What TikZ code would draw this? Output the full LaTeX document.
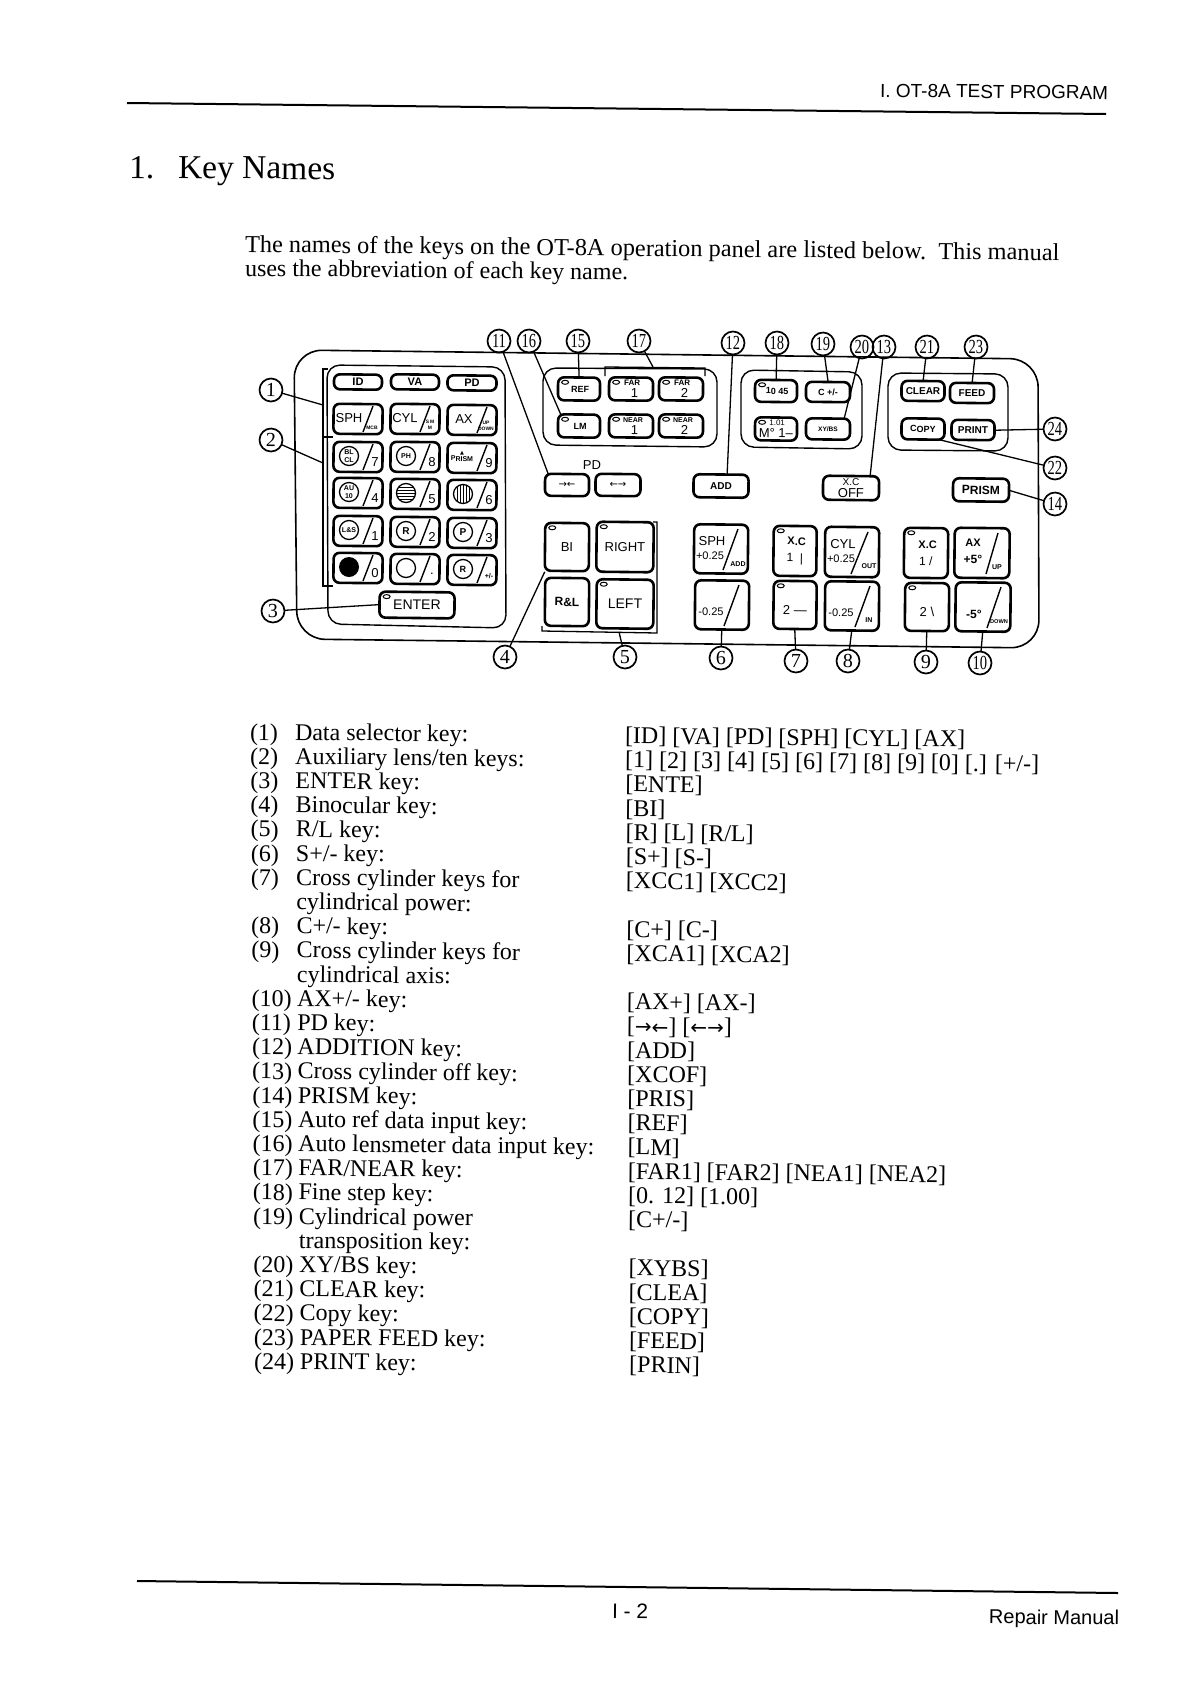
\documentclass[tikz,border=0pt]{standalone}
\usepackage{fontspec}
\usepackage{graphicx}
\setmainfont{Liberation Serif}
\setsansfont{Liberation Sans}
\newfontfamily\arrowfont{DejaVu Sans}
\newcommand{\fsz}[1]{\fontsize{#1}{#1}\selectfont}
\tikzset{
  every node/.style={rotate=-0.6,inner sep=0pt,outer sep=0pt},
  keybox/.style={draw=black,line width=2.6pt,rounded corners=6pt,rectangle,minimum width=#1},
  keybox/.default=44pt,
  keytxt/.style={font=\sffamily\fsz{13},align=center},
  grp/.style={line width=1.4pt,rounded corners=13pt},
  con/.style={line width=1.3pt},
  cnum/.style={draw=black,line width=1.7pt,circle,minimum size=23pt,font=\fsz{20}},
  body/.style={anchor=base west,font=\fsz{24}},
  sm/.style={font=\sffamily\bfseries\fsz{7},align=center,line width=0pt},
  kt/.style={font=\sffamily\fsz{13},align=center},
}
% circled number labels
\newcommand{\lab}[3]{\node[cnum] (c#1) at (#2,#3) {\ifnum#1>9 \scalebox{0.72}[1]{#1}\else #1\fi};}
% plain key: name, x, y, w, h, text
\newcommand{\ky}[6]{\node[keybox=#4 pt,minimum height=#5 pt,keytxt] (#1) at (#2,#3) {#6};}
% slash inside key: name, dx1, dy1, dx2, dy2
\newcommand{\slsh}[5]{\draw[line width=1.4pt] ([shift={(#2,#3)}]#1.center) -- ([shift={(#4,#5)}]#1.center);}
\newcommand{\led}[1]{\draw[line width=1pt] ([shift={(7,5)}]#1.north west) ellipse [x radius=3.5,y radius=2];}
% text inside a key by offset: nodename, key, dx, dy, style, text
\newcommand{\kt}[6]{\node[#5] (#1) at ([shift={(#3,#4)}]#2.center) {#6};}
% ten key: name,x,y
\newcommand{\tk}[3]{\node[keybox=49pt,minimum height=30pt] (#1) at (#2,#3) {};\slsh{#1}{5}{13}{15}{-13}}
% circle in ten key
\newcommand{\kc}[1]{\draw[line width=1.3pt] ([shift={(-9,-1)}]#1.center) circle (9.5);}
% list line: index, number, label, right text
\newcommand{\row}[4]{%
  \pgfmathsetmacro{\yy}{740+24.2*#1}%
  \pgfmathsetmacro{\xa}{250+0.155*#1}%
  \pgfmathsetmacro{\xb}{295+0.19*#1}%
  \pgfmathsetmacro{\xc}{625+0.16*#1}%
  \pgfmathsetmacro{\yr}{\yy+3.5}%
  \node[body] (n#1) at (\xa,\yy) {#2};
  \node[body] (t#1) at (\xb,\yy) {#3};
  \node[body] (r#1) at (\xc,\yr) {#4};
}
\begin{document}
\begin{tikzpicture}[x=1pt,y=-1pt]
\useasboundingbox (0,0) rectangle (1190,1684);
\fill[white] (0,0) rectangle (1190,1684);
% header
\node[anchor=base west,font=\sffamily\fsz{19}] (hdr) at (880,97) {I. OT-8A TEST PROGRAM};
\coordinate (hl) at (127,103); \coordinate (hr) at (1106,114);
\draw[line width=2pt] (hl) -- (hr);
\node[anchor=base west,font=\fsz{33.5}] (sec) at (129,178) {1.};
\node[anchor=base west,font=\fsz{33.5}] (sect) at (178,178) {Key Names};
\node[body,font=\fsz{24.35}] (p1) at (245,252) {The names of the keys on the OT-8A operation panel are listed below.\ \ This manual};
\node[body] (p2) at (245,276) {uses the abbreviation of each key name.};
% panel
\draw[line width=1.6pt,rounded corners=28pt] (294,350) -- (1038,359) -- (1039,648) -- (297,639) -- cycle;
\draw[grp] (327,365) -- (505,367) -- (506,628) -- (328,624) -- cycle;
\draw[grp] (543,368) -- (717,369) -- (717,447) -- (543,445) -- cycle;
\draw[grp] (741,370) -- (862,372) -- (862,449) -- (741,447) -- cycle;
\draw[grp] (888,373) -- (1008,374) -- (1008,451) -- (888,450) -- cycle;
% bracket left
\coordinate (bl1) at (323,405); \coordinate (bl2) at (323,463);
\draw[line width=2pt] (328,369) -- (323,369) -- (323,586) -- (333,586);
\draw[line width=2pt] (323,437) -- (333,437);
% left keys
\ky{kid}{358}{382}{48}{15}{\fsz{11}\bfseries ID}
\ky{kva}{415}{382}{48}{15}{\fsz{11}\bfseries VA}
\ky{kpd}{472}{383}{49}{15}{\fsz{11}\bfseries PD}
\tk{ksph}{358}{419}\tk{kcyl}{415}{419}\tk{kax}{472}{420}
\kt{a1}{ksph}{-9}{-1}{kt}{SPH}\kt{a2}{ksph}{14}{9}{sm}{\scalebox{.7}{MCB}}
\kt{a3}{kcyl}{-10}{-1}{kt}{CYL}\kt{a4}{kcyl}{15}{6}{sm}{\scalebox{.7}{S\,M}\\[-1pt]\scalebox{.7}{M}}
\kt{a5}{kax}{-8}{-1}{kt}{AX}\kt{a6}{kax}{14}{6}{sm}{\scalebox{.7}{UP}\\[-1pt]\scalebox{.7}{DOWN}}
\tk{k7}{358}{457}\tk{k8}{415}{457}\tk{k9}{472}{458}
\tk{k4}{358}{493}\tk{k5}{415}{494}\tk{k6}{472}{495}
\tk{k1}{358}{531}\tk{k2}{415}{532}\tk{k3}{472}{533}
\tk{k0}{358}{568}\tk{kdot}{415}{569}\tk{kpm}{472}{570}
\kc{k7}\kc{k8}\kc{k4}\kc{k1}\kc{k2}\kc{k3}\kc{kpm}\kc{kdot}\kc{k5}\kc{k6}
\fill ([shift={(-9,-1)}]k0.center) circle (10);
\kt{b7}{k7}{17}{5}{kt}{7}\kt{b8}{k8}{17}{5}{kt}{8}\kt{b9}{k9}{17}{5}{kt}{9}
\kt{b4}{k4}{17}{5}{kt}{4}\kt{b5}{k5}{17}{5}{kt}{5}\kt{b6}{k6}{17}{5}{kt}{6}
\kt{b1}{k1}{17}{5}{kt}{1}\kt{b2}{k2}{17}{5}{kt}{2}\kt{b3}{k3}{17}{5}{kt}{3}
\kt{b0}{k0}{17}{5}{kt}{0}\kt{bd}{kdot}{17}{5}{kt}{.}\kt{bp}{kpm}{17}{6}{sm}{+/-}
\kt{s7}{k7}{-9}{-1}{sm}{BL\\[1pt]CL}
\kt{s8}{k8}{-9}{-1}{sm}{PH}
\kt{s9}{k9}{-10}{-2}{sm}{{\arrowfont\fsz{5}▲}\\[0pt]PRISM}
\kt{s4}{k4}{-9}{-1}{sm}{AU\\[1pt]10}
\kt{s1}{k1}{-9}{-1}{sm}{L\&S}
\kt{s2}{k2}{-9}{-1}{sm}{\fsz{10}R}
\kt{s3}{k3}{-9}{-1}{sm}{\fsz{10}P}
\kt{sr}{kpm}{-9}{-1}{sm}{\fsz{9}R}
\foreach \d in {-6,-3,0,3,6}{
  \pgfmathsetmacro{\h}{sqrt(90-\d*\d)}
  \draw[line width=1pt] ([shift={(-9-\h,-1+\d)}]k5.center) -- ([shift={(-9+\h,-1+\d)}]k5.center);
  \draw[line width=1pt] ([shift={(-9+\d,-1-\h)}]k6.center) -- ([shift={(-9+\d,-1+\h)}]k6.center);
}
\ky{kent}{417}{605}{75}{26}{\fsz{14}ENTER}
\led{kent}
% middle group
\ky{kref}{579}{389}{42}{23}{\fsz{9}\bfseries\ REF}\led{kref}
\ky{kfar1}{631}{389}{44}{23}{\fsz{8}\bfseries\ FAR\\[-1pt]\ \ 1}\led{kfar1}
\ky{kfar2}{681}{389}{44}{23}{\fsz{8}\bfseries\ FAR\\[-1pt]\ \ 2}\led{kfar2}
\ky{klm}{579}{426}{42}{23}{\fsz{9}\bfseries\ LM}\led{klm}
\ky{knea1}{631}{426}{44}{23}{\fsz{7}\bfseries\ \ NEAR\\[-1pt]\ \ 1}\led{knea1}
\ky{knea2}{681}{426}{44}{23}{\fsz{7}\bfseries\ \ NEAR\\[-1pt]\ \ 2}\led{knea2}
\coordinate (br17) at (653,367);
\draw[line width=1.3pt] (605,376) -- (605,367) -- (705,368) -- (705,376);
% fine step
\ky{kf1}{776}{391}{42}{22}{\fsz{9}\bfseries\ 10 45}\led{kf1}
\ky{kc}{828}{392}{44}{20}{\fsz{9}\bfseries C +/-}
\ky{kf2}{776}{429}{42}{23}{\fsz{8}\ 1.01\\[-1pt]M° 1--}\led{kf2}
\ky{kxy}{828}{429}{44}{21}{\fsz{6.5}\bfseries XY/BS}
% print group
\ky{kclr}{923}{391}{43}{20}{\fsz{10}\bfseries CLEAR}
\ky{kfeed}{972}{393}{44}{20}{\fsz{10}\bfseries FEED}
\ky{kcopy}{923}{429}{43}{21}{\fsz{9}\bfseries COPY}
\ky{kprint}{973}{430}{43}{20}{\fsz{10}\bfseries PRINT}
% PD
\node[font=\sffamily\fsz{13}] (pdt) at (592,465) {PD};
\ky{kpd1}{567}{485}{44}{22}{\arrowfont\fsz{10}→←}
\ky{kpd2}{618}{485}{45}{22}{\arrowfont\fsz{10}←→}
\ky{kadd}{721}{486}{55}{23}{\fsz{10}\bfseries ADD}
\ky{kxoff}{851}{488}{56}{24}{\fsz{10}X.C\\[-1pt]OFF}
\ky{kprism}{981}{490}{56}{23}{\fsz{12}\bfseries PRISM}
% large keys
\ky{kbi}{567}{547}{44}{48}{BI}\led{kbi}
\ky{krl}{567}{602}{44}{48}{\fsz{12}\bfseries R\&L}
\ky{kright}{625}{547}{57}{50}{\fsz{13}RIGHT}\led{kright}
\ky{kleft}{625}{604}{57}{49}{\fsz{14}LEFT}\led{kleft}
\draw[line width=1.3pt] (542,626) -- (542,631) -- (657,633) -- (657,522) -- (653,522);
\coordinate (br5) at (619,632);
\ky{ksp}{721}{549}{54}{49}{}
\slsh{ksp}{2}{21}{17}{-20}
\kt{c1}{ksp}{-9}{-8}{kt}{SPH}\kt{c2}{ksp}{-11}{7}{kt}{\fsz{11}+0.25}\kt{c3}{ksp}{17}{15}{sm}{ADD}
\ky{ksm}{722}{605}{54}{49}{}
\slsh{ksm}{2}{21}{17}{-20}
\kt{c4}{ksm}{-11}{7}{kt}{\fsz{11}-0.25}
\ky{kxc1}{795}{551}{43}{50}{\fsz{11}\bfseries\ X.C\\[4pt]\fsz{12}1\ \ |}\led{kxc1}
\ky{kcp}{852}{552}{54}{50}{}
\slsh{kcp}{-1}{22}{16}{-20}
\kt{d1}{kcp}{-9}{-8}{kt}{CYL}\kt{d2}{kcp}{-11}{7}{kt}{\fsz{11}+0.25}\kt{d3}{kcp}{17}{14}{sm}{OUT}
\ky{kxc2}{795}{605}{43}{48}{\fsz{12}\bfseries\\[6pt]2 ---}\led{kxc2}
\ky{kcm}{852}{606}{54}{49}{}
\slsh{kcm}{3}{21}{18}{-20}
\kt{d4}{kcm}{-11}{7}{kt}{\fsz{11}-0.25}\kt{d5}{kcm}{17}{14}{sm}{IN}
\ky{kxa1}{926}{553}{44}{50}{\fsz{11}\bfseries\ X.C\\[4pt]\fsz{12}1 /}\led{kxa1}
\ky{kap}{982}{553}{55}{50}{}
\slsh{kap}{4}{21}{16}{-20}
\kt{e1}{kap}{-9}{-10}{kt}{\bfseries\fsz{11}AX}\kt{e2}{kap}{-9}{6}{kt}{\fsz{12}\bfseries +5°}\kt{e3}{kap}{15}{14}{sm}{UP}
\ky{kxa2}{927}{607}{44}{48}{\fsz{12}\bfseries\\[6pt]2 \textbackslash}\led{kxa2}
\ky{kam}{983}{607}{55}{49}{}
\slsh{kam}{4}{21}{18}{-20}
\kt{e4}{kam}{-9}{7}{kt}{\fsz{12}\bfseries -5°}\kt{e5}{kam}{16}{15}{sm}{\scalebox{.8}{DOWN}}
% labels
\lab{1}{271}{390}\lab{2}{271}{440}\lab{3}{273}{611}
\lab{11}{499}{341}\lab{16}{529}{341}\lab{15}{578}{341}\lab{17}{639}{341}
\lab{12}{733}{343}\lab{18}{777}{343}\lab{19}{823}{344}\lab{20}{862}{347}
\lab{13}{884}{347}\lab{21}{927}{347}\lab{23}{976}{347}
\lab{24}{1055}{429}\lab{22}{1055}{468}\lab{14}{1055}{504}
\lab{4}{505}{657}\lab{5}{625}{657}\lab{6}{721}{658}\lab{7}{796}{661}
\lab{8}{848}{661}\lab{9}{926}{662}\lab{10}{980}{663}
% connectors
\draw[con] (c1) -- (bl1);
\draw[con] (c2) -- (bl2);
\draw[con] (c3) -- (kent.west);
\draw[con] (c11) -- ([xshift=3pt]kpd1.north west);
\draw[con] (c16) -- ([yshift=-1pt,xshift=3pt]klm.north west);
\draw[con] (c15) -- (kref.north);
\draw[con] (c17) -- (br17);
\draw[con] (c12) -- ([xshift=6pt]kadd.north);
\draw[con] (c18) -- (kf1.north);
\draw[con] (c19) -- (kc.north);
\draw[con] (c20) -- ([xshift=-6pt]kxy.north east);
\draw[con] (c13) -- ([xshift=19pt]kxoff.north);
\draw[con] (c21) -- (kclr.north);
\draw[con] (c23) -- (kfeed.north);
\draw[con] (c24) -- (kprint.east);
\draw[con] (c22) -- ([xshift=-5pt]kcopy.south east);
\draw[con] (c14) -- (kprism.east);
\draw[con] (c4) -- ([yshift=-1pt]kbi.south west);
\draw[con] (c5) -- (br5);
\draw[con] (c6) -- (ksm.south);
\draw[con] (c7) -- (kxc2.south);
\draw[con] (c8) -- (kcm.south);
\draw[con] (c9) -- (kxa2.south);
\draw[con] (c10) -- (kam.south);
% list
\row{0}{(1)}{Data selector key:}{[ID] [VA] [PD] [SPH] [CYL] [AX]}
\row{1}{(2)}{Auxiliary lens/ten keys:}{[1] [2] [3] [4] [5] [6] [7] [8] [9] [0] [.] [+/-]}
\row{2}{(3)}{ENTER key:}{[ENTE]}
\row{3}{(4)}{Binocular key:}{[BI]}
\row{4}{(5)}{R/L key:}{[R] [L] [R/L]}
\row{5}{(6)}{S+/- key:}{[S+] [S-]}
\row{6}{(7)}{Cross cylinder keys for}{[XCC1] [XCC2]}
\row{7}{}{cylindrical power:}{}
\row{8}{(8)}{C+/- key:}{[C+] [C-]}
\row{9}{(9)}{Cross cylinder keys for}{[XCA1] [XCA2]}
\row{10}{}{cylindrical axis:}{}
\row{11}{(10)}{AX+/- key:}{[AX+] [AX-]}
\row{12}{(11)}{PD key:}{[{\arrowfont\fsz{20}→←}] [{\arrowfont\fsz{20}←→}]}
\row{13}{(12)}{ADDITION key:}{[ADD]}
\row{14}{(13)}{Cross cylinder off key:}{[XCOF]}
\row{15}{(14)}{PRISM key:}{[PRIS]}
\row{16}{(15)}{Auto ref data input key:}{[REF]}
\row{17}{(16)}{Auto lensmeter data input key:}{[LM]}
\row{18}{(17)}{FAR/NEAR key:}{[FAR1] [FAR2] [NEA1] [NEA2]}
\row{19}{(18)}{Fine step key:}{[0. 12] [1.00]}
\row{20}{(19)}{Cylindrical power}{[C+/-]}
\row{21}{}{transposition key:}{}
\row{22}{(20)}{XY/BS key:}{[XYBS]}
\row{23}{(21)}{CLEAR key:}{[CLEA]}
\row{24}{(22)}{Copy key:}{[COPY]}
\row{25}{(23)}{PAPER FEED key:}{[FEED]}
\row{26}{(24)}{PRINT key:}{[PRIN]}
% footer
\coordinate (fl) at (137,1581); \coordinate (fr) at (1118,1593);
\draw[line width=2pt] (fl) -- (fr);
\node[anchor=base west,font=\sffamily\fsz{21}] (pg) at (612,1618) {I - 2};
\node[anchor=base east,font=\sffamily\fsz{20}] (rm) at (1119,1625) {Repair Manual};
\end{tikzpicture}
\end{document}
